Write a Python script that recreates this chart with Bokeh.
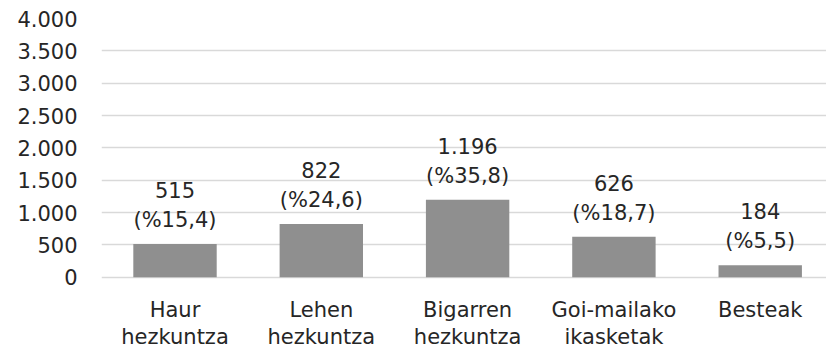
from bokeh.plotting import figure
from bokeh.models import ColumnDataSource, FixedTicker, Range1d
from bokeh.embed import file_html
from bokeh.resources import INLINE
from bokeh.core.properties import value

categories = ["Haur hezkuntza", "Lehen hezkuntza", "Bigarren hezkuntza", "Goi-mailako ikasketak", "Besteak"]
counts = [515, 822, 1196, 626, 184]
count_labels = ["515", "822", "1.196", "626", "184"]
pct_labels = ["(%15,4)", "(%24,6)", "(%35,8)", "(%18,7)", "(%5,5)"]
y_ticks = [0, 500, 1000, 1500, 2000, 2500, 3000, 3500, 4000]
y_tick_labels = ["0", "500", "1.000", "1.500", "2.000", "2.500", "3.000", "3.500", "4.000"]

FONT = "DejaVu Sans"
TXT = "#262626"
FS = "21px"

xs = list(range(1, len(categories) + 1))
parts = [c.split(" ", 1) for c in categories]
line1 = [pp[0] for pp in parts]
line2 = [pp[1] if len(pp) > 1 else "" for pp in parts]
src = ColumnDataSource(dict(x=xs, top=counts, c=count_labels, p=pct_labels,
                            zero=[0] * len(xs), l1=line1, l2=line2))

# frame extends below zero so the two-line category labels can sit inside it
p = figure(width=826, height=349, output_backend="svg", toolbar_location=None,
           x_range=Range1d(0.4976, 5.453), y_range=Range1d(-1118, 4000),
           min_border_left=101, min_border_right=0, min_border_top=18, min_border_bottom=0)
p.outline_line_color = None
p.background_fill_color = "white"
p.border_fill_color = "white"

p.vbar(x="x", top="top", bottom=0, width=0.57, source=src, fill_color="#8f8f8f", line_color=None)

p.text(x="x", y="top", text="p", source=src, y_offset=-24, text_align="center",
       text_baseline="alphabetic", text_font=value(FONT), text_font_size=FS, text_color=TXT)
p.text(x="x", y="top", text="c", source=src, y_offset=-54, text_align="center",
       text_baseline="alphabetic", text_font=value(FONT), text_font_size=FS, text_color=TXT)

# category labels below the baseline
p.text(x="x", y="zero", text="l1", source=src, y_offset=33, text_align="center",
       text_baseline="alphabetic", text_font=value(FONT), text_font_size=FS, text_color=TXT)
p.text(x="x", y="zero", text="l2", source=src, y_offset=60, text_align="center",
       text_baseline="alphabetic", text_font=value(FONT), text_font_size=FS, text_color=TXT)

# axes
p.yaxis.ticker = FixedTicker(ticks=y_ticks)
p.yaxis.major_label_overrides = {t: l for t, l in zip(y_ticks, y_tick_labels)}
p.yaxis.axis_line_color = None
p.yaxis.major_tick_line_color = None
p.yaxis.minor_tick_line_color = None
p.yaxis.major_label_standoff = 18
p.yaxis.major_label_text_font = FONT
p.yaxis.major_label_text_font_size = FS
p.yaxis.major_label_text_color = TXT

p.xaxis.visible = False

p.xgrid.grid_line_color = None
p.ygrid.ticker = FixedTicker(ticks=y_ticks)
p.ygrid.grid_line_color = "#d9d9d9"
p.ygrid.grid_line_width = 1.5

open("out.html", "w").write(file_html(p, INLINE))
